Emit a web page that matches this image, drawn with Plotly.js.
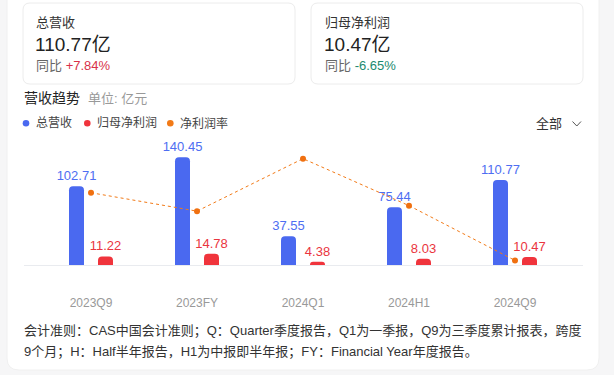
<!DOCTYPE html>
<html>
<head>
<meta charset="utf-8">
<script src="https://cdn.plot.ly/plotly-3.0.1.min.js"></script>
<style>html,body{margin:0;padding:0;background:#f6f6f7;}#chart{width:614px;height:375px;}</style>
</head>
<body>
<div id="chart"></div>
<script>
// ---- data ----
const periods = ['2023Q9', '2023FY', '2024Q1', '2024H1', '2024Q9'];
const revenue = [102.71, 140.45, 37.55, 75.44, 110.77];      // 总营收 (亿元)
const netProfit = [11.22, 14.78, 4.38, 8.03, 10.47];         // 归母净利润 (亿元)
const netMargin = [10.92, 10.52, 11.66, 10.64, 9.45];        // 净利润率 (%)
const seriesNames = ['总营收', '归母净利润', '净利润率'];
const cardTitles = ['总营收', '归母净利润'];
const cardValues = ['110.77亿', '10.47亿'];
const cardYoY = ['+7.84%', '-6.65%'];
const footnote1 = '会计准则：CAS中国会计准则；Q：Quarter季度报告，Q1为一季报，Q9为三季度累计报表，跨度';
const footnote2 = '9个月；H：Half半年报告，H1为中报即半年报；FY：Financial Year年度报告。';

// ---- geometry ----
const W = 614, H = 375, ML = 24, MR = 31, MT = 140, MB = 110;
const PW = W - ML - MR, PH = H - MT - MB;
const px = x => (x - ML) / PW;
const py = y => 1 - (y - MT) / PH;
const FONT = 'Liberation Sans, Arial, Noto Sans CJK SC, sans-serif';
const BLUE = '#4a69f0', RED = '#f0343c', ORANGE = '#f27a17';

function rrect(x0, y0, x1, y1, r) {
  return `M ${px(x0 + r)},${py(y0)} L ${px(x1 - r)},${py(y0)} Q ${px(x1)},${py(y0)} ${px(x1)},${py(y0 + r)} ` +
    `L ${px(x1)},${py(y1 - r)} Q ${px(x1)},${py(y1)} ${px(x1 - r)},${py(y1)} ` +
    `L ${px(x0 + r)},${py(y1)} Q ${px(x0)},${py(y1)} ${px(x0)},${py(y1 - r)} ` +
    `L ${px(x0)},${py(y0 + r)} Q ${px(x0)},${py(y0)} ${px(x0 + r)},${py(y0)} Z`;
}
function ann(text, x, y, size, color, extra) {
  return Object.assign({
    text: text, xref: 'paper', yref: 'paper', x: px(x), y: py(y),
    xanchor: 'left', yanchor: 'middle', showarrow: false, borderpad: 0,
    font: {family: FONT, size: size, color: color}
  }, extra || {});
}
function dot(cx, cy, r, color) {
  return {type: 'circle', xref: 'paper', yref: 'paper', layer: 'below',
    x0: px(cx - r), x1: px(cx + r), y0: py(cy + r), y1: py(cy - r),
    fillcolor: color, line: {width: 0}};
}

const shapes = [
  {type: 'path', xref: 'paper', yref: 'paper', layer: 'below', path: rrect(7, -12, 599, 370, 12),
   fillcolor: '#ffffff', line: {color: '#f0f0f0', width: 1}},
  {type: 'path', xref: 'paper', yref: 'paper', layer: 'below', path: rrect(23, 3, 295, 84, 7),
   fillcolor: '#ffffff', line: {color: '#ececec', width: 1}},
  {type: 'path', xref: 'paper', yref: 'paper', layer: 'below', path: rrect(311, 3, 583, 84, 7),
   fillcolor: '#ffffff', line: {color: '#ececec', width: 1}},
  dot(26, 123.3, 3.3, BLUE), dot(87.3, 123.3, 3.3, RED), dot(170.3, 123.3, 3.3, ORANGE),
  {type: 'path', xref: 'paper', yref: 'paper', path:
    `M ${px(572.5)},${py(121.5)} L ${px(576.8)},${py(126)} L ${px(581)},${py(121.5)}`,
   line: {color: '#555', width: 1}}
];

const annotations = [
  ann(cardTitles[0], 35, 22.7, 13, '#333'),
  ann(cardValues[0], 34, 44.3, 19, '#222'),
  ann('同比 <span style="color:#d83149">' + cardYoY[0] + '</span>', 35, 65.7, 13, '#666'),
  ann(cardTitles[1], 323.5, 22.7, 13, '#333'),
  ann(cardValues[1], 322.5, 44.3, 19, '#222'),
  ann('同比 <span style="color:#1b8a6e">' + cardYoY[1] + '</span>', 323.5, 65.7, 13, '#666'),
  ann('营收趋势', 23, 98.3, 14, '#222'),
  ann('单位: 亿元', 87, 98.3, 13, '#999'),
  ann(seriesNames[0], 34.5, 123.3, 12, '#444'),
  ann(seriesNames[1], 95.5, 123.3, 12, '#444'),
  ann(seriesNames[2], 179, 123.3, 12, '#444'),
  ann('全部', 535, 124, 13, '#333'),
  ann(footnote1, 23, 331, 13, '#333'),
  ann(footnote2, 23, 351.5, 13, '#333')
];

const barW = 15 / 106;
const traces = [
  {type: 'bar', name: seriesNames[0], x: periods, y: revenue, width: barW, offset: -22 / 106,
   marker: {color: BLUE, cornerradius: 4}, text: revenue.map(v => v.toFixed(2)),
   textposition: 'outside', cliponaxis: false, constraintext: 'none',
   textfont: {family: FONT, size: 13, color: '#4e6ef2'}},
  {type: 'bar', name: seriesNames[1], x: periods, y: netProfit, width: barW, offset: 7 / 106,
   marker: {color: RED, cornerradius: 4}, text: netProfit.map(v => v.toFixed(2)),
   textposition: 'outside', cliponaxis: false, constraintext: 'none',
   textfont: {family: FONT, size: 13, color: '#ea3540'}},
  {type: 'scatter', name: seriesNames[2], x: periods, y: netMargin, yaxis: 'y2',
   mode: 'lines+markers', cliponaxis: false,
   line: {color: ORANGE, width: 1, dash: 'dot'},
   marker: {color: '#f07010', size: 6}}
];

const layout = {
  width: W, height: H,
  margin: {l: ML, r: MR, t: MT, b: MB, pad: 0},
  paper_bgcolor: '#f6f6f7', plot_bgcolor: 'rgba(0,0,0,0)',
  showlegend: false, barmode: 'overlay',
  font: {family: FONT},
  xaxis: {type: 'category', categoryorder: 'array', categoryarray: periods,
    range: [-67 / 106, (PW - 67) / 106], fixedrange: true,
    showgrid: false, zeroline: false, showline: true, linecolor: '#e9ebef', linewidth: 1,
    ticks: '', ticklabelstandoff: 27,
    tickfont: {family: FONT, size: 12, color: '#999'}},
  yaxis: {range: [0, PH / 0.767], visible: false, fixedrange: true},
  yaxis2: {overlaying: 'y', range: [9.351, 12.065], visible: false, fixedrange: true},
  shapes: shapes,
  annotations: annotations
};

Plotly.newPlot('chart', traces, layout, {staticPlot: true, displayModeBar: false});
</script>
</body>
</html>
